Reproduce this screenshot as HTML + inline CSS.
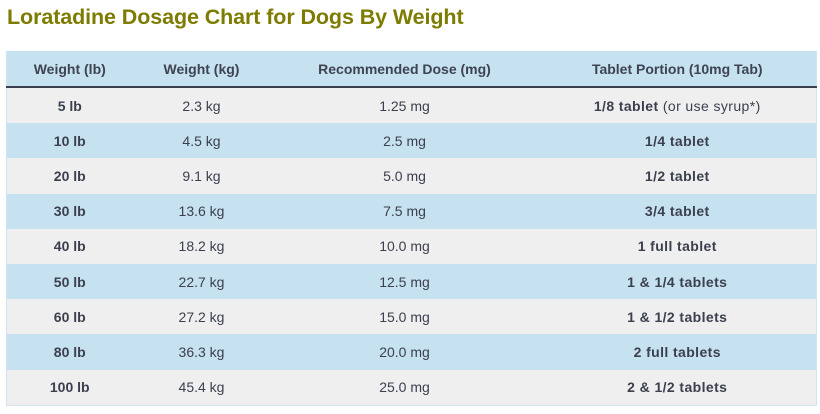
<!DOCTYPE html>
<html><head><meta charset="utf-8"><style>
html,body{margin:0;padding:0;background:#fff;width:820px;height:414px;overflow:hidden;}
body{font-family:"Liberation Sans",Arial,sans-serif;color:#3b3f4e;position:relative;}
h1{position:absolute;left:7px;top:2px;margin:0;font-size:21.5px;font-weight:bold;color:#7d7c00;line-height:30px;letter-spacing:-0.1px;}
table{position:absolute;left:6px;top:51px;width:810px;border-collapse:collapse;table-layout:fixed;border:1px solid #d3e3ee;border-top:none;}
th{background:#c6e2f0;height:35px;font-size:14px;font-weight:bold;color:#3e4352;border-bottom:2px solid #3a3e4d;padding:0;text-align:center;}
td{height:35.2px;padding:0;text-align:center;font-size:14px;}
tr.g td{background:#efefef;}
tr.b td{background:#c6e2f0;}
td.w{font-weight:bold;}
td.t{font-weight:bold;letter-spacing:0.4px;}
td.t span{font-weight:normal;}
</style></head><body>
<h1>Loratadine Dosage Chart for Dogs By Weight</h1>
<table>
<colgroup><col style="width:126px"><col style="width:138px"><col style="width:268px"><col style="width:278px"></colgroup>
<tr><th>Weight (lb)</th><th>Weight (kg)</th><th>Recommended Dose (mg)</th><th>Tablet Portion (10mg Tab)</th></tr>
<tr class="g"><td class="w">5 lb</td><td>2.3 kg</td><td>1.25 mg</td><td class="t">1/8 tablet <span>(or use syrup*)</span></td></tr>
<tr class="b"><td class="w">10 lb</td><td>4.5 kg</td><td>2.5 mg</td><td class="t">1/4 tablet</td></tr>
<tr class="g"><td class="w">20 lb</td><td>9.1 kg</td><td>5.0 mg</td><td class="t">1/2 tablet</td></tr>
<tr class="b"><td class="w">30 lb</td><td>13.6 kg</td><td>7.5 mg</td><td class="t">3/4 tablet</td></tr>
<tr class="g"><td class="w">40 lb</td><td>18.2 kg</td><td>10.0 mg</td><td class="t">1 full tablet</td></tr>
<tr class="b"><td class="w">50 lb</td><td>22.7 kg</td><td>12.5 mg</td><td class="t">1 &amp; 1/4 tablets</td></tr>
<tr class="g"><td class="w">60 lb</td><td>27.2 kg</td><td>15.0 mg</td><td class="t">1 &amp; 1/2 tablets</td></tr>
<tr class="b"><td class="w">80 lb</td><td>36.3 kg</td><td>20.0 mg</td><td class="t">2 full tablets</td></tr>
<tr class="g"><td class="w">100 lb</td><td>45.4 kg</td><td>25.0 mg</td><td class="t">2 &amp; 1/2 tablets</td></tr>
</table>
</body></html>
